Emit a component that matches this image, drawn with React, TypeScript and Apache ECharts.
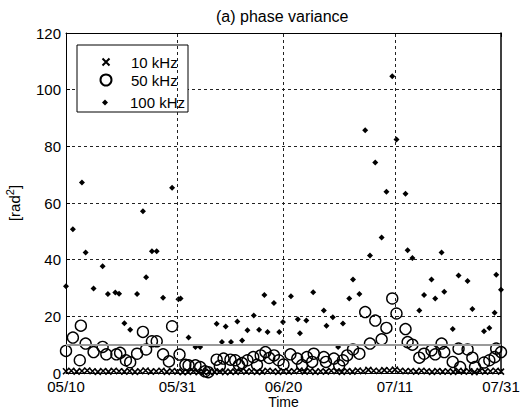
import React, { useEffect, useRef } from "react";
import * as echarts from "echarts";

const tickDays = [0, 21, 41, 62, 82];
const tickLabels = ["05/10", "05/31", "06/20", "07/11", "07/31"];

const days100 = [0, 1.3, 3.0, 3.7, 5.2, 6.9, 7.9, 9.3, 10.0, 11.0, 12.1, 13.4, 14.5, 15.1, 16.2, 17.1, 18.3, 20.0, 21.2, 21.6, 23.1, 24.4, 25.3, 28.4, 29.4, 30.1, 31.1, 32.3, 33.2, 34.2, 35.4, 36.4, 37.4, 38.0, 39.2, 40.2, 40.9, 42.4, 43.7, 44.1, 45.3, 46.6, 48.6, 49.1, 50.3, 51.3, 52.2, 53.4, 54.1, 55.3, 56.4, 57.3, 58.3, 59.5, 60.4, 61.5, 62.3, 64.0, 64.4, 65.3, 66.6, 67.5, 68.9, 69.6, 70.8, 71.3, 72.9, 74.0, 75.7, 76.6, 78.8, 79.8, 80.8, 81.1, 82.0];
const vals100 = [30.6, 50.7, 67.2, 42.5, 29.8, 37.7, 27.9, 28.4, 28.0, 17.6, 15.3, 27.9, 57.1, 33.8, 43.0, 43.0, 26.6, 65.4, 26.0, 26.3, 12.5, 9.2, 9.2, 17.4, 10.9, 16.4, 10.9, 18.2, 11.5, 15.1, 20.3, 15.3, 27.5, 14.5, 24.7, 14.5, 18.0, 27.1, 19.0, 14.0, 18.5, 28.5, 22.1, 16.7, 19.7, 9.2, 17.5, 26.3, 33.0, 27.9, 85.7, 41.5, 74.3, 47.8, 64.0, 104.7, 82.4, 63.3, 43.3, 40.6, 22.1, 27.5, 33.0, 26.3, 42.5, 28.7, 15.5, 34.4, 32.5, 22.6, 14.7, 15.9, 21.3, 34.7, 29.4];

const days50 = [0, 1.3, 2.6, 2.8, 3.7, 5.2, 6.9, 7.6, 9.5, 10.2, 11.3, 12.1, 13.4, 14.5, 15.1, 16.2, 17.1, 18.3, 19.4, 20.0, 21.4, 22.5, 23.1, 24.4, 25.3, 26.2, 26.8, 28.4, 29.0, 29.7, 31.0, 31.9, 32.6, 33.2, 34.2, 35.3, 36.0, 36.7, 37.6, 38.3, 39.2, 40.1, 41.0, 42.3, 43.6, 44.5, 45.4, 46.4, 46.7, 48.6, 49.0, 50.5, 51.5, 52.2, 53.0, 54.1, 55.3, 56.4, 57.3, 58.3, 59.5, 60.4, 61.5, 62.3, 64.0, 64.4, 65.3, 66.6, 67.5, 68.9, 69.6, 70.8, 71.3, 72.9, 74.0, 74.3, 75.7, 76.6, 77.1, 78.8, 79.8, 80.8, 81.1, 82.0];
const vals50 = [7.8, 12.5, 4.5, 16.7, 10.4, 7.4, 9.2, 6.6, 6.6, 7.1, 4.5, 3.8, 6.8, 14.5, 8.3, 11.2, 11.2, 6.6, 4.1, 16.5, 6.5, 2.9, 2.7, 2.7, 2.1, 0.6, 0.3, 4.7, 2.5, 5.1, 4.7, 4.5, 2.8, 3.5, 4.5, 5.6, 2.9, 6.2, 7.4, 5.3, 6.2, 4.5, 3.0, 6.6, 5.1, 2.8, 5.6, 3.9, 6.8, 5.6, 3.9, 5.1, 2.7, 4.5, 6.2, 8.3, 6.8, 21.5, 10.4, 18.5, 11.9, 15.9, 26.3, 21.0, 15.5, 10.9, 10.0, 5.4, 6.8, 8.0, 6.6, 10.4, 7.4, 3.9, 8.6, 2.1, 8.3, 5.4, 2.1, 3.7, 4.5, 5.6, 8.6, 7.4];

const vals10 = [0.6, 0.8, 0.5, 0.7, 0.9, 0.6, 0.4, 0.7, 0.5, 0.8, 0.6, 0.5, 0.7, 0.4, 0.6, 0.9, 0.5, 0.6, 0.8, 0.4, 0.7, 0.5, 0.3, 0.4, 0.6, 0.3, 0.2, 0.5, 0.4, 0.6, 0.3, 0.5, 0.4, 0.7, 0.5, 0.6, 0.4, 0.5, 0.8, 0.6, 0.4, 0.7, 0.5, 0.6, 0.9, 0.5, 0.7, 0.4, 0.6, 0.5, 0.8, 0.6, 0.4, 0.7, 0.5, 0.9, 0.6, 1.1, 0.8, 0.7, 1.0, 0.9, 1.2, 0.8, 0.6, 0.7, 0.5, 0.8, 0.6, 0.4, 0.7, 0.5, 0.6, 0.4, 0.8, 0.5, 0.6, 0.3, 0.7, 0.5, 0.6, 0.8, 0.5];

const FONT = "'Liberation Sans', Arial, sans-serif";
const crossPath = "path://M0,0L10,10M10,0L0,10";

export default function App() {
  const ref = useRef<HTMLDivElement>(null);
  useEffect(() => {
    if (!ref.current) return;
    const chart = echarts.init(ref.current, null, { renderer: "svg" });
    const fmt = (v: number) => {
      for (let i = 0; i < tickDays.length; i++) {
        if (Math.abs(tickDays[i] - v) < 1) return tickLabels[i];
      }
      return "";
    };
    const dash = [3, 3];
    const iconCenter = 105;
    const textLeft = 130;
    const legendItem = (name: string, size: number, top: number) => ({
      data: [name],
      orient: "vertical",
      left: iconCenter - size / 2,
      top: top - size / 2,
      padding: 0,
      z: 4,
      itemWidth: size,
      itemHeight: size,
      formatter: (n: string) => "{s|}{t|" + n + "}",
      textStyle: {
        fontSize: 15,
        color: "#000",
        fontFamily: FONT,
        rich: {
          s: { width: textLeft - (iconCenter + size / 2 + 5) },
          t: { fontSize: 15, color: "#000", fontFamily: FONT },
        },
      },
    });
    chart.setOption({
      animation: false,
      backgroundColor: "#fff",
      textStyle: { fontFamily: FONT },
      title: {
        text: "(a) phase variance",
        left: 216,
        top: 8,
        padding: 0,
        textStyle: { fontSize: 16, fontWeight: "normal", color: "#000", fontFamily: FONT },
      },
      grid: { left: 66, right: 20, top: 33, bottom: 36, show: false, outerBoundsMode: "none", containLabel: false },
      graphic: [
        {
          type: "rect",
          z: 3,
          shape: { x: 77, y: 45, width: 111, height: 67 },
          style: { fill: "#fff", stroke: "#000", lineWidth: 1 },
        },
      ],
      legend: [
        legendItem("10 kHz", 7, 58),
        legendItem("50 kHz", 11, 78),
        legendItem("100 kHz", 6, 98),
      ],
      xAxis: [
        {
          type: "value", min: 0, max: 82, interval: 20.5,
          name: "Time", nameLocation: "middle", nameGap: 21, nameMoveOverlap: false,
          nameTextStyle: { fontSize: 14, lineHeight: 15, color: "#000", fontFamily: FONT, verticalAlign: "top" },
          axisLine: { show: true, lineStyle: { color: "#000", width: 1 } },
          axisTick: { show: true, inside: true, length: 4, customValues: tickDays, lineStyle: { color: "#000" } },
          axisLabel: { customValues: tickDays, formatter: fmt, fontSize: 15, lineHeight: 16, color: "#000", margin: 5, fontFamily: FONT },
          splitLine: { show: false },
        },
        {
          type: "value", min: 0, max: 82, interval: 20.5, position: "top",
          axisLine: { show: true, onZero: false, lineStyle: { color: "#000", width: 1 } },
          axisTick: { show: true, inside: true, length: 4, customValues: tickDays, lineStyle: { color: "#000" } },
          axisLabel: { show: false },
          splitLine: { show: false },
        },
      ],
      yAxis: [
        {
          type: "value", min: 0, max: 120, interval: 20,
          name: "{a|[rad}{b|2}{a|]}", nameLocation: "middle", nameGap: 44, nameRotate: 90,
          nameTextStyle: {
            fontSize: 15, color: "#000", fontFamily: FONT,
            rich: {
              a: { fontSize: 15, lineHeight: 18, color: "#000", fontFamily: FONT, verticalAlign: "bottom" },
              b: { fontSize: 11, lineHeight: 11, color: "#000", fontFamily: FONT, verticalAlign: "top" },
            },
          },
          axisLine: { show: true, lineStyle: { color: "#000", width: 1 } },
          axisTick: { show: true, inside: true, length: 4, lineStyle: { color: "#000" } },
          axisLabel: { fontSize: 15, color: "#000", margin: 5, fontFamily: FONT },
          splitLine: { show: true, lineStyle: { color: "#222", width: 1, type: dash } },
        },
        {
          type: "value", min: 0, max: 120, interval: 20, position: "right",
          axisLine: { show: true, onZero: false, lineStyle: { color: "#000", width: 1.5 } },
          axisTick: { show: true, inside: true, length: 4, lineStyle: { color: "#000" } },
          axisLabel: { show: false },
          splitLine: { show: false },
        },
      ],
      series: [
        {
          name: "guides",
          type: "scatter",
          data: [],
          silent: true,
          markLine: {
            silent: true,
            symbol: "none",
            label: { show: false },
            data: [
              { xAxis: 21, lineStyle: { color: "#222", width: 1, type: dash } },
              { xAxis: 41, lineStyle: { color: "#222", width: 1, type: dash } },
              { xAxis: 62, lineStyle: { color: "#222", width: 1, type: dash } },
              { yAxis: 10, lineStyle: { color: "#9a9a9a", width: 2, type: "solid" } },
            ],
          },
        },
        {
          name: "10 kHz",
          type: "scatter",
          symbol: crossPath,
          symbolSize: 6,
          itemStyle: { color: "#000", borderColor: "#000", borderWidth: 1.6, opacity: 1 },
          data: vals10.map((v, i) => [i, v]),
          z: 3,
        },
        {
          name: "50 kHz",
          type: "scatter",
          symbol: "circle",
          symbolSize: 11,
          itemStyle: { color: "rgba(0,0,0,0)", borderColor: "#000", borderWidth: 1.4, opacity: 1 },
          data: days50.map((d, i) => [d, vals50[i]]),
          z: 3,
        },
        {
          name: "100 kHz",
          type: "scatter",
          symbol: "diamond",
          symbolSize: 6,
          itemStyle: { color: "#000", opacity: 1 },
          data: days100.map((d, i) => [d, vals100[i]]),
          z: 3,
        },
      ],
    });
    return () => chart.dispose();
  }, []);
  return <div ref={ref} style={{ width: 521, height: 409, position: "absolute", left: 0, top: 0 }} />;
}
